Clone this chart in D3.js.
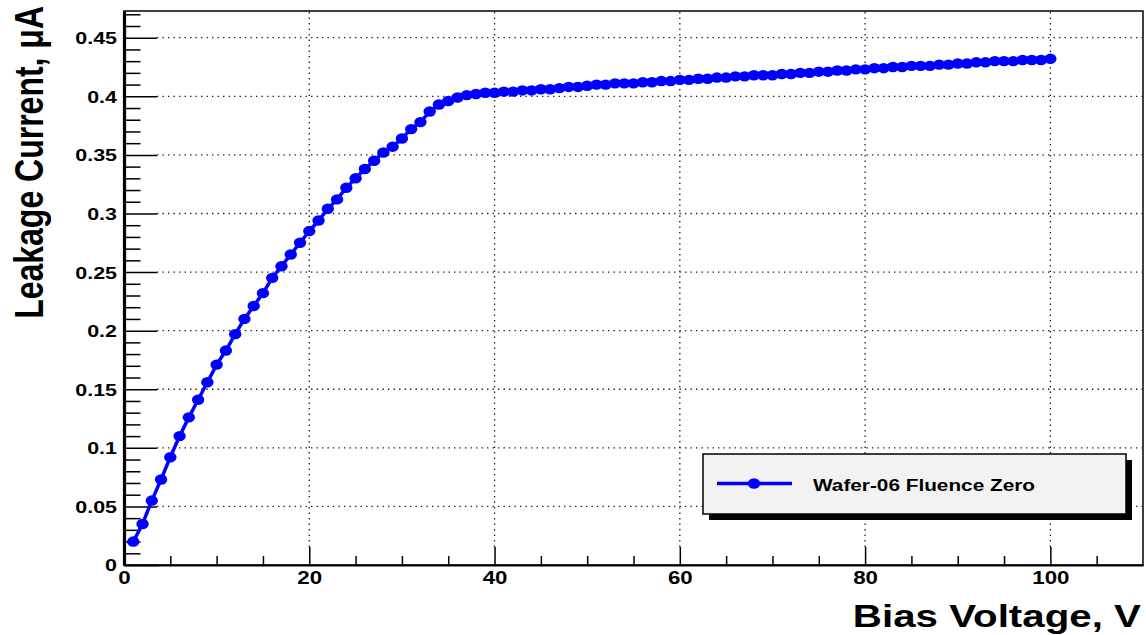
<!DOCTYPE html>
<html>
<head>
<meta charset="utf-8">
<script src="https://cdn.jsdelivr.net/npm/d3@7"></script>
<style>
    body { margin: 0; background: #fff; }
    text { font-family: "Liberation Sans", Arial, Helvetica, sans-serif; font-weight: bold; }
</style>
</head>
<body>
<svg id="chart" width="1146" height="635"></svg>
<script>

// bias voltage (V) and leakage current (uA)
var voltage = d3.range(1, 101);
var current = [
    0.020, 0.035, 0.055, 0.073, 0.092, 0.110, 0.126, 0.141, 0.156, 0.171,
    0.183, 0.197, 0.210, 0.221, 0.232, 0.245, 0.255, 0.265, 0.275, 0.285,
    0.294, 0.304, 0.312, 0.322, 0.330, 0.338, 0.345, 0.352, 0.357, 0.364,
    0.372, 0.378, 0.387, 0.393, 0.396, 0.399, 0.401, 0.402, 0.403, 0.403,
    0.404, 0.404, 0.405, 0.405, 0.406, 0.406, 0.407, 0.408, 0.408, 0.409,
    0.410, 0.410, 0.411, 0.411, 0.411, 0.412, 0.412, 0.413, 0.413, 0.414,
    0.414, 0.415, 0.415, 0.416, 0.416, 0.417, 0.417, 0.418, 0.418, 0.418,
    0.419, 0.419, 0.420, 0.420, 0.421, 0.421, 0.422, 0.422, 0.423, 0.423,
    0.424, 0.424, 0.425, 0.425, 0.426, 0.426, 0.426, 0.427, 0.427, 0.428,
    0.428, 0.429, 0.429, 0.430, 0.430, 0.430, 0.431, 0.431, 0.431, 0.432
];

var seriesName = "Wafer-06 Fluence Zero";
var xTitle = "Bias Voltage, V";
var yTitle = "Leakage Current, \u03bcA";

var xTicks = [0, 20, 40, 60, 80, 100];
var xTickLabels = ["0", "20", "40", "60", "80", "100"];
var yTicks = [0, 0.05, 0.1, 0.15, 0.2, 0.25, 0.3, 0.35, 0.4, 0.45];
var yTickLabels = ["0", "0.05", "0.1", "0.15", "0.2", "0.25", "0.3", "0.35", "0.4", "0.45"];

// minor ticks: every 5 V and every 0.01 uA
var xMinor = d3.range(0, 110, 5).filter(v => v % 20 !== 0);
var yMinor = d3.range(1, 48).filter(i => i % 5 !== 0).map(i => i / 100);

var frame = {left: 124, right: 1143, top: 11, bottom: 565};
var stretch = 1.26;   // the picture is widened horizontally
var marker = {rx: 6.2, ry: 5.2};

var svg = d3.select("#chart");

var x = d3.scaleLinear().domain([0, 110]).range([frame.left, frame.right]);
var y = d3.scaleLinear().domain([0, 0.4728]).range([frame.bottom, frame.top]);

// frame
svg.append("rect")
    .attr("x", frame.left)
    .attr("y", frame.top)
    .attr("width", frame.right - frame.left)
    .attr("height", frame.bottom - frame.top)
    .attr("fill", "#fff")
    .attr("stroke", "#000")
    .attr("stroke-width", 1.5);

// dotted grid
var grid = svg.append("g")
    .attr("stroke", "#222")
    .attr("stroke-width", 1.3)
    .attr("stroke-dasharray", "1.4,4.1");

grid.selectAll("line.gx")
    .data(xTicks.filter(v => v > 0))
    .join("line")
      .attr("class", "gx")
      .attr("x1", d => x(d)).attr("x2", d => x(d))
      .attr("y1", frame.bottom - 18).attr("y2", frame.top);

grid.selectAll("line.gy")
    .data(yTicks.filter(v => v > 0))
    .join("line")
      .attr("class", "gy")
      .attr("x1", frame.left + 33).attr("x2", frame.right)
      .attr("y1", d => y(d)).attr("y2", d => y(d));

// axes
var yAxis = svg.append("g")
    .attr("transform", `translate(${frame.left},0)`)
    .call(d3.axisLeft(y).tickValues(yTicks).tickSize(-33).tickSizeOuter(0)
        .tickFormat((d, i) => yTickLabels[i]));

svg.append("g")
    .attr("transform", `translate(${frame.left},0)`)
    .call(d3.axisLeft(y).tickValues(yMinor).tickSize(-16.5).tickSizeOuter(0).tickFormat(""));

yAxis.selectAll(".tick text")
    .attr("x", null)
    .attr("dy", null)
    .attr("transform", d => `translate(-7,${d === 0 ? 5 : 6}) scale(1.3,1)`)
    .attr("font-size", 16.5)
    .attr("font-family", null)
    .attr("fill", "#000");

var xAxis = svg.append("g")
    .attr("transform", `translate(0,${frame.bottom})`)
    .call(d3.axisBottom(x).tickValues(xTicks).tickSize(-18).tickSizeOuter(0)
        .tickFormat((d, i) => xTickLabels[i]));

svg.append("g")
    .attr("transform", `translate(0,${frame.bottom})`)
    .call(d3.axisBottom(x).tickValues(xMinor).tickSize(-9).tickSizeOuter(0).tickFormat(""));

xAxis.selectAll(".tick text")
    .attr("y", null)
    .attr("dy", null)
    .attr("transform", "translate(0,18.5) scale(1.24,1)")
    .attr("font-size", 18)
    .attr("font-family", null)
    .attr("fill", "#000");

svg.selectAll(".tick line").attr("stroke", "#000").attr("stroke-width", 1.5);
svg.selectAll(".domain").attr("stroke", "#000");
yAxis.select(".domain").attr("stroke-width", 3.2);
xAxis.select(".domain").attr("stroke-width", 2.2);

// axis titles
svg.append("text")
    .attr("transform", `translate(1141,627) scale(${stretch},1)`)
    .attr("text-anchor", "end")
    .attr("font-size", 32)
    .text(xTitle);

svg.append("text")
    .attr("transform", `translate(43,6) scale(${stretch},1) rotate(-90)`)
    .attr("text-anchor", "end")
    .attr("font-size", 32)
    .text(yTitle);

// data
var points = voltage.map((v, i) => [v, current[i]]);

var line = d3.line()
    .x(d => x(d[0]))
    .y(d => y(d[1]));

svg.append("path")
    .datum(points)
    .attr("d", line)
    .attr("fill", "none")
    .attr("stroke", "#0000ff")
    .attr("stroke-width", 3.5);

svg.append("g")
    .selectAll("ellipse")
    .data(points)
    .join("ellipse")
      .attr("cx", d => x(d[0]))
      .attr("cy", d => y(d[1]))
      .attr("rx", marker.rx)
      .attr("ry", marker.ry)
      .attr("fill", "#0000ff");

// legend
var legend = svg.append("g").attr("transform", "translate(703,454)");

legend.append("rect")
    .attr("x", 6).attr("y", 6)
    .attr("width", 423).attr("height", 60)
    .attr("fill", "#000");

legend.append("rect")
    .attr("width", 423).attr("height", 60)
    .attr("fill", "#f2f2f2")
    .attr("stroke", "#000")
    .attr("stroke-width", 1.5);

legend.append("line")
    .attr("x1", 14).attr("x2", 89)
    .attr("y1", 29.5).attr("y2", 29.5)
    .attr("stroke", "#0000ff")
    .attr("stroke-width", 3.5);

legend.append("ellipse")
    .attr("cx", 51).attr("cy", 29.5)
    .attr("rx", marker.rx).attr("ry", marker.ry)
    .attr("fill", "#0000ff");

legend.append("text")
    .attr("transform", `translate(110,36.5) scale(${stretch},1)`)
    .attr("font-size", 16.5)
    .text(seriesName);

</script>
</body>
</html>
